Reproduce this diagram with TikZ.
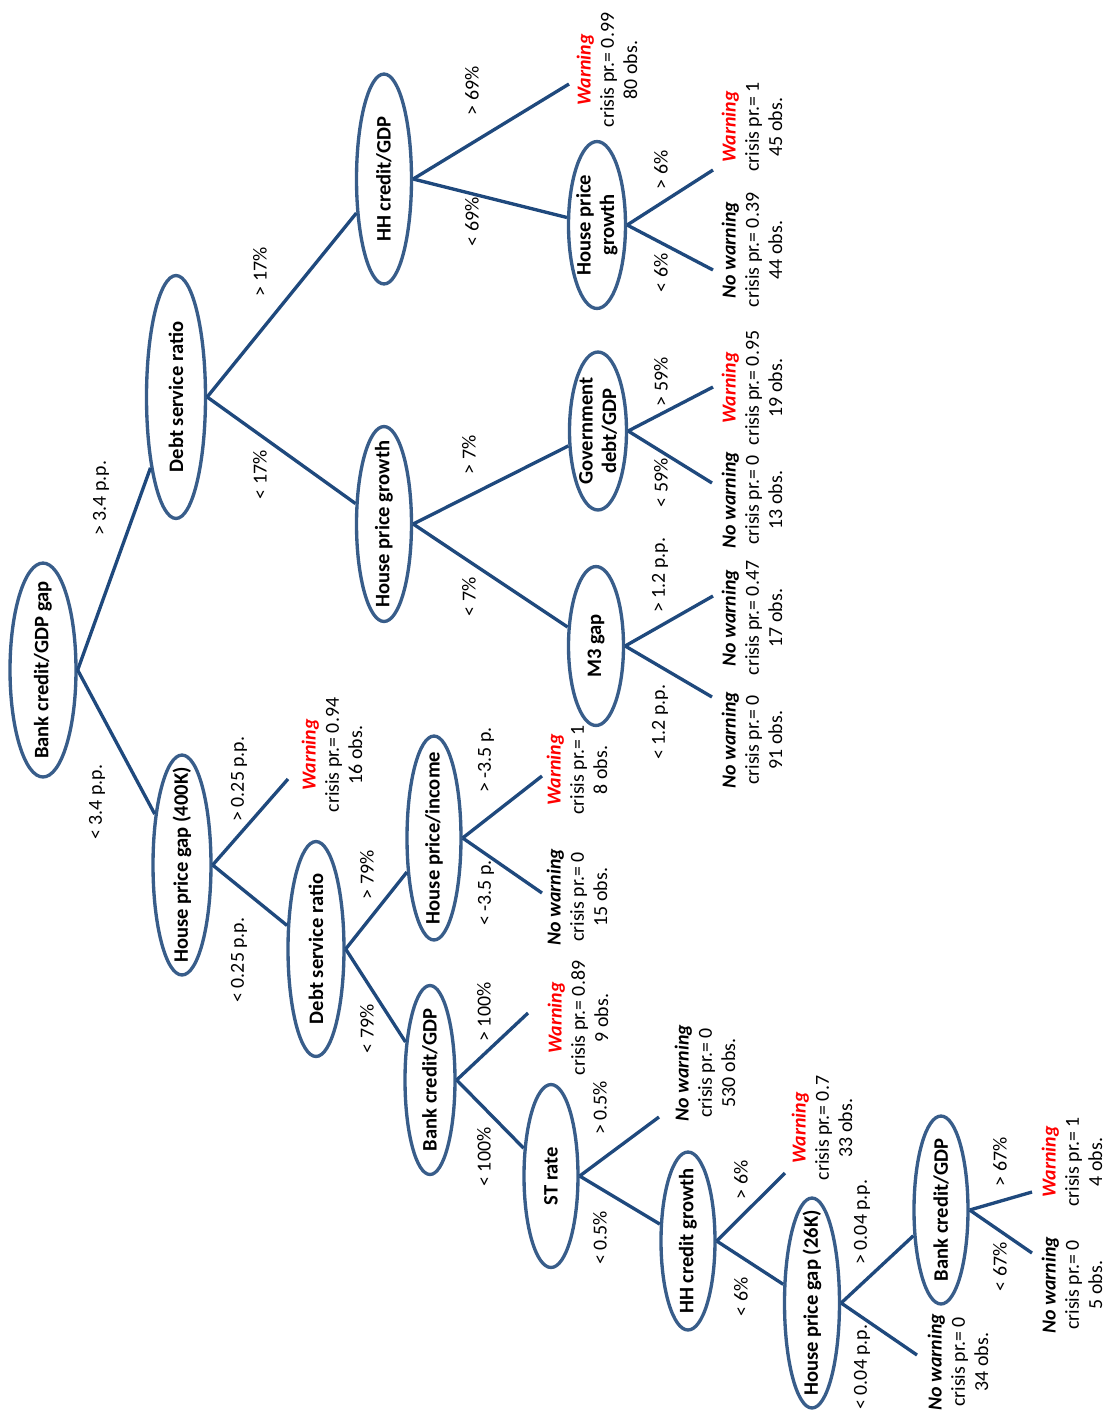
\documentclass[tikz,border=0pt]{standalone}
\usepackage{fontspec}
\setmainfont{Carlito}
\usetikzlibrary{shapes.geometric}

\definecolor{linecol}{RGB}{31,73,125}
\definecolor{ovalcol}{RGB}{56,93,138}

\tikzset{
  split/.style={ellipse, draw=ovalcol, line width=1.9pt, rotate=90,
    inner xsep=-2cm, inner ysep=-1cm, align=center,
    font=\fontsize{11.7}{13.4}\selectfont\bfseries},
  branch/.style={draw=linecol, line width=1.9pt},
  cond/.style={rotate=90, inner sep=0pt},
  leaf/.style={rotate=90, inner sep=0pt, align=center},
}
\newcommand{\warn}{\textcolor{red}{\textbf{\textit{Warning}}}}
\newcommand{\nowarn}{\textbf{\textit{No warning}}}

\begin{document}
\begin{tikzpicture}[x=0.02cm, y=-0.02cm, font=\fontsize{11.3}{13.2}\selectfont]
\useasboundingbox (0,0) rectangle (1106,1421);

% splits
\node[split, minimum width=4.28cm, minimum height=1.32cm] (root) at (43,670) {Bank credit/GDP gap};
\node[split, minimum width=4.86cm, minimum height=1.18cm] (dsrA) at (176,397) {Debt service ratio};
\node[split, minimum width=4.40cm, minimum height=1.16cm] (hpg400) at (182,865) {House price gap (400K)};
\node[split, minimum width=4.30cm, minimum height=1.12cm] (dsrB) at (316,949) {Debt service ratio};
\node[split, minimum width=4.08cm, minimum height=1.08cm] (hpi) at (434,838) {House price/income};
\node[split, minimum width=3.78cm, minimum height=1.00cm] (bcgA) at (430,1080) {Bank credit/GDP};
\node[split, minimum width=3.66cm, minimum height=1.08cm] (st) at (551,1176) {ST rate};
\node[split, minimum width=3.56cm, minimum height=1.08cm] (hhcg) at (688,1241) {HH credit growth};
\node[split, minimum width=4.20cm, minimum height=1.10cm] (hpg26) at (812,1303) {House price gap (26K)};
\node[split, minimum width=3.76cm, minimum height=1.08cm] (bcgB) at (941,1210) {Bank credit/GDP};
\node[split, minimum width=3.90cm, minimum height=1.10cm] (hpgA) at (384,524) {House price growth};
\node[split, minimum width=3.18cm, minimum height=1.10cm] (m3) at (596,646) {M3 gap};
\node[split, minimum width=3.16cm, minimum height=1.14cm] (gov) at (598,431) {Government\\debt/GDP};
\node[split, minimum width=4.20cm, minimum height=1.10cm] (hhgdp) at (384,179) {HH credit/GDP};
\node[split, minimum width=3.34cm, minimum height=1.14cm] (hpgB) at (597,225) {House price\\growth};

% free ends of the leaf branches
\coordinate (eA) at (569,84);
\coordinate (eB) at (713,170);
\coordinate (eC) at (713,270);
\coordinate (eD) at (713,387);
\coordinate (eE) at (712,483);
\coordinate (eF) at (713,596);
\coordinate (eG) at (712,697);
\coordinate (eH) at (288,779);
\coordinate (eI) at (542,776);
\coordinate (eJ) at (542,893);
\coordinate (eK) at (528,1013);
\coordinate (eL) at (659,1117);
\coordinate (eM) at (785,1173);
\coordinate (eN) at (917,1355);
\coordinate (eO) at (1032,1192);
\coordinate (eP) at (1032,1253);

% branches
\draw[branch] (root.south) -- (dsrA);
\draw[branch] (root.south) -- (hpg400);
\draw[branch] (dsrA.south) -- (hhgdp);
\draw[branch] (dsrA.south) -- (hpgA);
\draw[branch] (hhgdp.south) -- (eA);
\draw[branch] (hhgdp.south) -- (hpgB);
\draw[branch] (hpgB.south) -- (eB);
\draw[branch] (hpgB.south) -- (eC);
\draw[branch] (hpgA.south) -- (gov);
\draw[branch] (hpgA.south) -- (m3);
\draw[branch] (gov.south) -- (eD);
\draw[branch] (gov.south) -- (eE);
\draw[branch] (m3.south) -- (eF);
\draw[branch] (m3.south) -- (eG);
\draw[branch] (hpg400.south) -- (eH);
\draw[branch] (hpg400.south) -- (dsrB);
\draw[branch] (dsrB.south) -- (hpi);
\draw[branch] (dsrB.south) -- (bcgA);
\draw[branch] (hpi.south) -- (eI);
\draw[branch] (hpi.south) -- (eJ);
\draw[branch] (bcgA.south) -- (eK);
\draw[branch] (bcgA.south) -- (st);
\draw[branch] (st.south) -- (eL);
\draw[branch] (st.south) -- (hhcg);
\draw[branch] (hhcg.south) -- (eM);
\draw[branch] (hhcg.south) -- (hpg26);
\draw[branch] (hpg26.south) -- (bcgB);
\draw[branch] (hpg26.south) -- (eN);
\draw[branch] (bcgB.south) -- (eO);
\draw[branch] (bcgB.south) -- (eP);

% thresholds
\node[cond] (c1) at (101,498) {> 3.4 p.p.};
\node[cond] (c2) at (97,802) {< 3.4 p.p.};
\node[cond] (c3) at (260,272) {> 17\%};
\node[cond] (c4) at (260,475) {< 17\%};
\node[cond] (c5) at (472,91) {> 69\%};
\node[cond] (c6) at (472,222) {< 69\%};
\node[cond] (c7) at (661,170) {> 6\%};
\node[cond] (c8) at (661,273) {< 6\%};
\node[cond] (c9) at (469,455) {> 7\%};
\node[cond] (c10) at (469,597) {< 7\%};
\node[cond] (c11) at (661,382) {> 59\%};
\node[cond] (c12) at (661,483) {< 59\%};
\node[cond] (c13) at (660,575) {> 1.2 p.p.};
\node[cond] (c14) at (660,722) {< 1.2 p.p.};
\node[cond] (c15) at (239,779) {> 0.25 p.p.};
\node[cond] (c16) at (239,960) {< 0.25 p.p.};
\node[cond] (c17) at (367,875) {> 79\%};
\node[cond] (c18) at (367,1029) {< 79\%};
\node[cond] (c19) at (486,760) {> -3.5 p.};
\node[cond] (c20) at (486,893) {< -3.5 p.};
\node[cond] (c21) at (484,1012) {> 100\%};
\node[cond] (c22) at (484,1157) {< 100\%};
\node[cond] (c23) at (600,1108) {> 0.5\%};
\node[cond] (c24) at (600,1238) {< 0.5\%};
\node[cond] (c25) at (741,1180) {> 6\%};
\node[cond] (c26) at (741,1297) {< 6\%};
\node[cond] (c27) at (862,1222) {> 0.04 p.p.};
\node[cond] (c28) at (862,1367) {< 0.04 p.p.};
\node[cond] (c29) at (1000,1162) {> 67\%};
\node[cond] (c30) at (1000,1267) {< 67\%};

% leaves
\node[leaf] (lA) at (607,70) {\warn\\crisis pr.= 0.99\\80 obs.};
\node[leaf] (lB) at (752,127) {\warn\\crisis pr.= 1\\45 obs.};
\node[leaf] (lC) at (752,250) {\nowarn\\crisis pr.= 0.39\\44 obs.};
\node[leaf] (lD) at (752,388) {\warn\\crisis pr.= 0.95\\19 obs.};
\node[leaf] (lE) at (752,500) {\nowarn\\crisis pr.= 0\\13 obs.};
\node[leaf] (lF) at (752,618) {\nowarn\\crisis pr.= 0.47\\17 obs.};
\node[leaf] (lG) at (752,740) {\nowarn\\crisis pr.= 0\\91 obs.};
\node[leaf] (lH) at (332,755) {\warn\\crisis pr.= 0.94\\16 obs.};
\node[leaf] (lI) at (577,770) {\warn\\crisis pr.= 1\\8 obs.};
\node[leaf] (lJ) at (577,897) {\nowarn\\crisis pr.= 0\\15 obs.};
\node[leaf] (lK) at (578,1018) {\warn\\crisis pr.= 0.89\\9 obs.};
\node[leaf] (lL) at (705,1073) {\nowarn\\crisis pr.= 0\\530 obs.};
\node[leaf] (lM) at (822,1128) {\warn\\crisis pr.= 0.7\\33 obs.};
\node[leaf] (lN) at (958,1362) {\nowarn\\crisis pr.= 0\\34 obs.};
\node[leaf] (lO) at (1072,1162) {\warn\\crisis pr.= 1\\4 obs.};
\node[leaf] (lP) at (1072,1285) {\nowarn\\crisis pr.= 0\\5 obs.};
\end{tikzpicture}
\end{document}
